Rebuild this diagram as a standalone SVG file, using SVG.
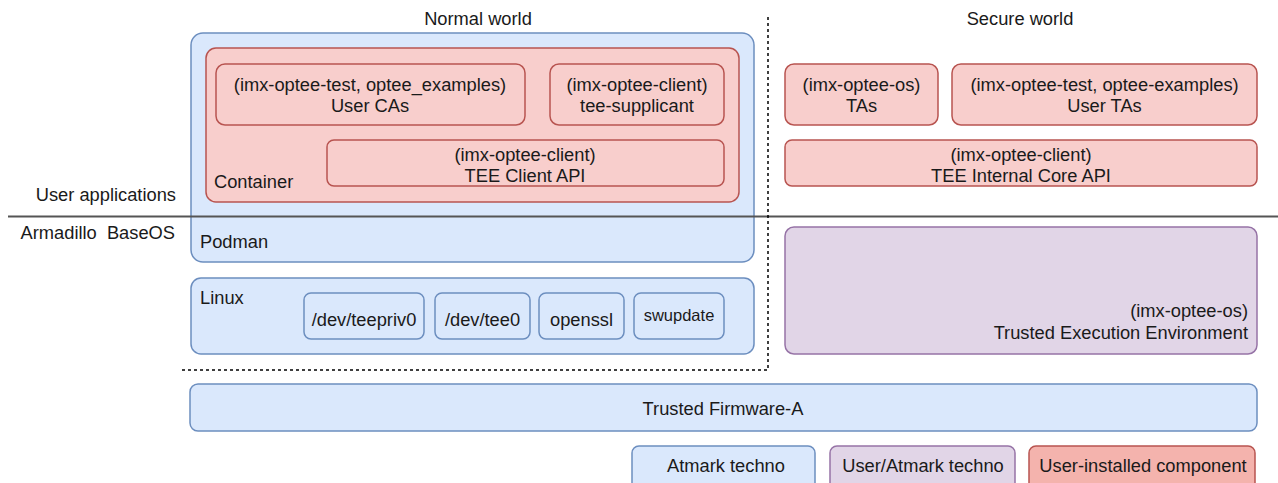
<svg xmlns="http://www.w3.org/2000/svg" width="1278" height="483" viewBox="0 0 1278 483">
<style>
text{font-family:"Liberation Sans",Arial,sans-serif;font-size:18.3px;fill:#1a1a1a}
.c{text-anchor:middle}
.r{text-anchor:end}
.b{fill:#dae8fc;stroke:#6c8ebf;stroke-width:1.5}
.p{fill:#f8cecc;stroke:#b85450;stroke-width:1.5}
.u{fill:#e1d5e7;stroke:#9673a6;stroke-width:1.5}
.d{fill:#f4b3ad;stroke:#b85450;stroke-width:1.5}
.dash{stroke:#000;stroke-width:1.5;stroke-dasharray:3 3;fill:none}
</style>
<g id="labels">
<text class="c" x="478" y="25">Normal world</text>
<text class="c" x="1020" y="25">Secure world</text>
<text class="r" x="176" y="201">User applications</text>
<text class="r" x="175" y="239" xml:space="preserve" style="white-space:pre">Armadillo  BaseOS</text>
</g>
<g id="podman"><rect class="b" x="191" y="33" width="563" height="229" rx="12"/><text x="200" y="248">Podman</text></g>
<g id="container"><rect class="p" x="206" y="48" width="533" height="154" rx="10"/><text x="214" y="188">Container</text></g>
<g id="user-cas"><rect class="p" x="216" y="64" width="309" height="61" rx="9"/><text class="c" x="370" y="91">(imx-optee-test, optee_examples)</text><text class="c" x="370" y="112">User CAs</text></g>
<g id="tee-supplicant"><rect class="p" x="550" y="64" width="174" height="61" rx="9"/><text class="c" x="637" y="91">(imx-optee-client)</text><text class="c" x="637" y="112">tee-supplicant</text></g>
<g id="tee-client-api"><rect class="p" x="327" y="140" width="397" height="46" rx="7"/><text class="c" x="525" y="161">(imx-optee-client)</text><text class="c" x="525" y="182">TEE Client API</text></g>
<g id="linux"><rect class="b" x="191" y="278" width="563" height="76" rx="10"/><text x="200" y="304">Linux</text></g>
<g id="teepriv0"><rect class="b" x="304" y="293" width="120" height="46" rx="7"/><text class="c" x="364" y="326">/dev/teepriv0</text></g>
<g id="tee0"><rect class="b" x="435" y="293" width="95" height="46" rx="7"/><text class="c" x="482.5" y="326">/dev/tee0</text></g>
<g id="openssl"><rect class="b" x="539" y="293" width="85" height="46" rx="7"/><text class="c" x="581.5" y="326">openssl</text></g>
<g id="swupdate"><rect class="b" x="634" y="293" width="90" height="46" rx="7"/><text class="c" x="679" y="321" style="font-size:16.5px">swupdate</text></g>
<g id="tas"><rect class="p" x="785" y="64" width="153" height="61" rx="9"/><text class="c" x="861.5" y="91">(imx-optee-os)</text><text class="c" x="861.5" y="112">TAs</text></g>
<g id="user-tas"><rect class="p" x="952" y="64" width="305" height="61" rx="9"/><text class="c" x="1104.5" y="91">(imx-optee-test, optee-examples)</text><text class="c" x="1104.5" y="112">User TAs</text></g>
<g id="tee-internal-core-api"><rect class="p" x="785" y="140" width="472" height="46" rx="7"/><text class="c" x="1021" y="161">(imx-optee-client)</text><text class="c" x="1021" y="182">TEE Internal Core API</text></g>
<g id="tee"><rect class="u" x="785" y="227" width="472" height="127" rx="9"/><text class="r" x="1248" y="317">(imx-optee-os)</text><text class="r" x="1248" y="339">Trusted Execution Environment</text></g>
<g id="tf-a"><rect class="b" x="190" y="384" width="1067" height="47" rx="8"/><text class="c" x="723" y="415">Trusted Firmware-A</text></g>
<g id="legend-atmark"><rect class="b" x="632" y="446" width="183" height="45" rx="7"/><text class="c" x="726" y="472">Atmark techno</text></g>
<g id="legend-user-atmark"><rect class="u" x="830" y="446" width="185" height="45" rx="7"/><text class="c" x="923" y="472">User/Atmark techno</text></g>
<g id="legend-user"><rect class="d" x="1029" y="446" width="226" height="45" rx="7"/><text class="c" x="1143" y="472">User-installed component</text></g>
<g id="connectors">
<line x1="8" y1="216.5" x2="1278" y2="216.5" stroke="#555" stroke-width="2"/>
<path class="dash" d="M768 17 V370 H180"/>
</g>
</svg>
